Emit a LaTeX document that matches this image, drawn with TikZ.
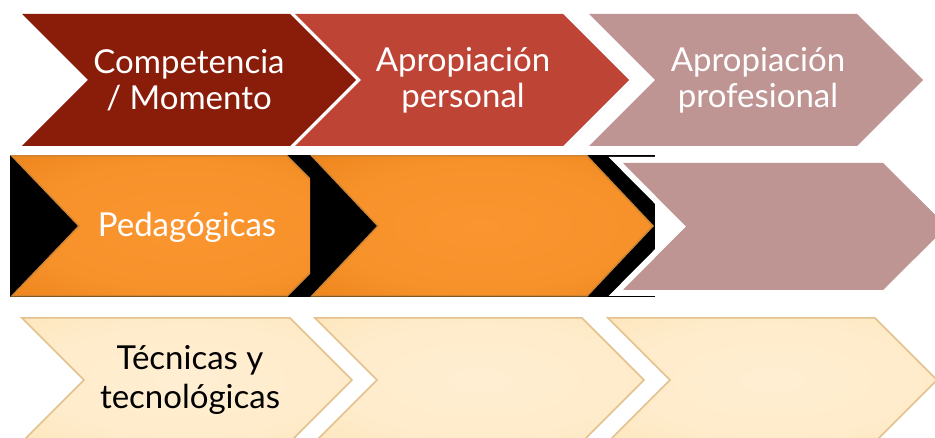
\documentclass[tikz,border=0pt]{standalone}
\usepackage{fontspec}
\setmainfont{Lato}

\definecolor{rojoosc}{HTML}{8A1D0A}
\definecolor{rojo}{HTML}{BE4536}
\definecolor{malva}{HTML}{BE9593}
\definecolor{naranjac}{HTML}{FA952F}
\definecolor{naranjao}{HTML}{E3790C}
\definecolor{naranjab}{HTML}{CF8534}
\definecolor{crema}{HTML}{FFEED2}
\definecolor{cremao}{HTML}{FDE3B2}
\definecolor{cremab}{HTML}{E3C18D}

\pgfdeclareradialshading{brillonar}{\pgfpoint{0bp}{0bp}}{color(0bp)=(naranjac); color(22bp)=(naranjac!88!naranjao); color(36bp)=(naranjac!45!naranjao); color(50bp)=(naranjao)}
\pgfdeclareradialshading{brillocre}{\pgfpoint{0bp}{0bp}}{color(0bp)=(crema); color(22bp)=(crema!80!cremao); color(36bp)=(crema!35!cremao); color(50bp)=(cremao)}

\begin{document}
\begin{tikzpicture}[x=1pt,y=-1pt,
  lbl/.style={align=center,text=white,font=\fontsize{33}{36}\selectfont},
  naranja/.style={draw=naranjab,line width=1.5pt,shading=brillonar},
  cremabox/.style={draw=cremab,line width=1.5pt,shading=brillocre}]
  \useasboundingbox (0,0) rectangle (935,438);
  \clip (0,0) rectangle (935,438);
  % top row
  \fill[rojoosc] (22,14) -- (290,14) -- (356,80) -- (290,146) -- (22,146) -- (88,80) -- cycle;
  \fill[rojo] (295,14) -- (563,14) -- (629,80) -- (563,146) -- (295,146) -- (361,80) -- cycle;
  \fill[malva] (589,14) -- (857,14) -- (923,80) -- (857,146) -- (589,146) -- (655,80) -- cycle;
  \node[lbl] (comp) at (189,80) {Competencia\\/ Momento};
  \node[lbl] (apers) at (463,80) {Apropiación\\personal};
  \node[lbl] (aprof) at (758,80) {Apropiación\\profesional};
  % middle row
  \fill[black] (10,155) rectangle (655,297);
  \begin{scope}
    \clip (10,155) rectangle (310,297);
    \path[naranja] (12,156) -- (287,156) -- (357,226) -- (287,296) -- (12,296) -- (79,226) -- cycle;
  \end{scope}
  \path[naranja] (312,156) -- (587,156) -- (653,226) -- (587,296) -- (312,296) -- (378,226) -- cycle;
  \fill[malva,preaction={draw=white,line width=12pt}] (623,163) -- (883,163) -- (947,226.5) -- (883,290) -- (623,290) -- (686,226.5) -- cycle;
  \node[lbl] (ped) at (187,227) {Pedagógicas};
  % bottom row
  \path[cremabox] (22,318) -- (290,318) -- (352,380) -- (290,442) -- (22,442) -- (84,380) -- cycle;
  \path[cremabox] (315,318) -- (582,318) -- (644,380) -- (582,442) -- (315,442) -- (377,380) -- cycle;
  \path[cremabox] (608,318) -- (875,318) -- (937,380) -- (875,442) -- (608,442) -- (670,380) -- cycle;
  \node[lbl,text=black,font=\fontsize{33}{39}\selectfont] (tec) at (190,380) {Técnicas y\\tecnológicas};
\end{tikzpicture}
\end{document}
